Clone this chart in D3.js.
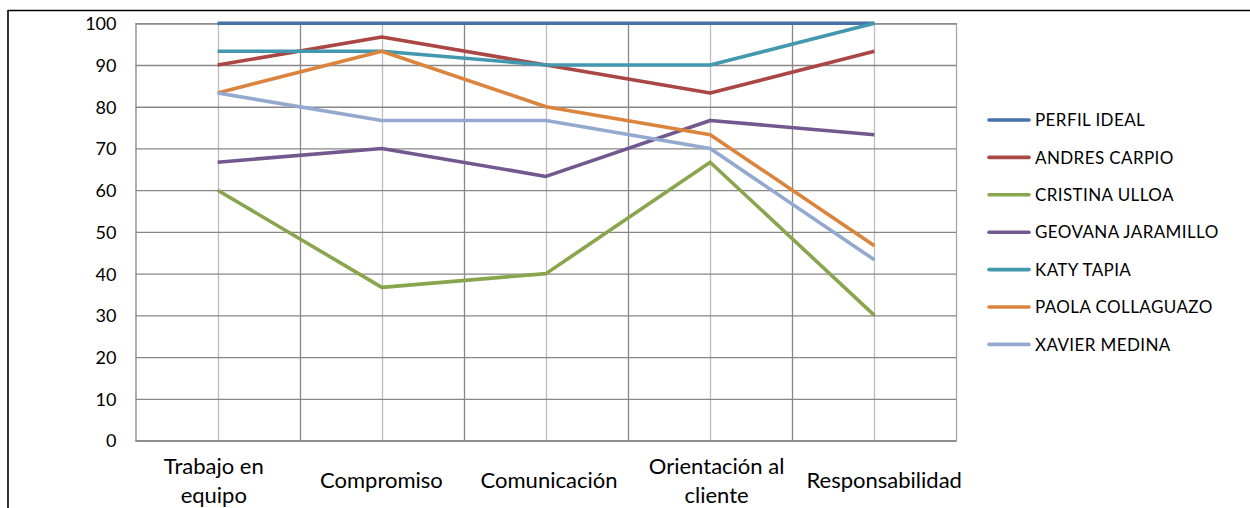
<!DOCTYPE html>
<html><head><meta charset="utf-8">
<script src="https://cdn.jsdelivr.net/npm/d3@7"></script>
<style>
html,body{margin:0;padding:0;background:#fff;}
svg{display:block;}
text{font-family:Lato, "Open Sans", sans-serif;fill:#000;}
</style></head>
<body>
<svg id="c" width="1250" height="508"></svg>
<script>
const categories = ["Trabajo en equipo","Compromiso","Comunicación","Orientación al cliente","Responsabilidad"];
const categoryLines = [["Trabajo en","equipo"],["Compromiso"],["Comunicación"],["Orientación al","cliente"],["Responsabilidad"]];
const seriesNames = ["PERFIL IDEAL","ANDRES CARPIO","CRISTINA ULLOA","GEOVANA JARAMILLO","KATY TAPIA","PAOLA COLLAGUAZO","XAVIER MEDINA"];
const perfilIdeal = [100,100,100,100,100];
const andresCarpio = [90,96.7,90,83.3,93.3];
const cristinaUlloa = [60,36.7,40,66.7,30];
const geovanaJaramillo = [66.7,70,63.3,76.7,73.3];
const katyTapia = [93.3,93.3,90,90,100];
const paolaCollaguazo = [83.3,93.3,80,73.3,46.7];
const xavierMedina = [83.3,76.7,76.7,70,43.3];
const yTicks = [0,10,20,30,40,50,60,70,80,90,100];
const colors = ["#4572A7","#AA4643","#89A54E","#71588F","#4198AF","#DB843D","#93A9CF"];

const seriesValues = [perfilIdeal,andresCarpio,cristinaUlloa,geovanaJaramillo,katyTapia,paolaCollaguazo,xavierMedina];
const series = seriesNames.map((n,i)=>({name:n,values:seriesValues[i],color:colors[i]}));

const svg = d3.select("#c");
const L=135.5, R=956.5, T=23.3, B=440.5;
const x = d3.scaleBand().domain(categories).range([L,R]).padding(0);
const xLabel = d3.scaleBand().domain(categories).range([130,968]).padding(0);
const y = d3.scaleLinear().domain([0,100]).range([B,T]);
const cx = c => x(c)+x.bandwidth()/2;

// chart frame
svg.append("line").attr("x1",8).attr("x2",1250).attr("y1",10.5).attr("y2",10.5).attr("stroke","#000").attr("stroke-width",1.6);
svg.append("line").attr("x1",8).attr("x2",8).attr("y1",10).attr("y2",508).attr("stroke","#000").attr("stroke-width",1.6);

// vertical gridlines at category centers (light)
svg.append("g").selectAll("line").data(categories).join("line")
  .attr("x1",d=>Math.round(cx(d))+0.5).attr("x2",d=>Math.round(cx(d))+0.5)
  .attr("y1",T).attr("y2",B).attr("stroke","#BEBEBE").attr("stroke-width",1.3);
// vertical gridlines at boundaries (dark)
svg.append("g").selectAll("line").data(categories.slice(1)).join("line")
  .attr("x1",d=>Math.round(x(d))+0.5).attr("x2",d=>Math.round(x(d))+0.5)
  .attr("y1",T).attr("y2",B).attr("stroke","#878787").attr("stroke-width",1.3);
// right edge
svg.append("line").attr("x1",R).attr("x2",R).attr("y1",T).attr("y2",B).attr("stroke","#A6A6A6").attr("stroke-width",1.3);

// horizontal gridlines + y axis
const yAxis = d3.axisLeft(y).tickValues(yTicks).tickSize(-(R-L)).tickPadding(19).tickFormat(d3.format("d"));
const gy = svg.append("g").attr("transform",`translate(${L},0)`).call(yAxis);
gy.select(".domain").attr("stroke","#878787").attr("stroke-width",1.3);
gy.selectAll(".tick line").attr("stroke","#878787").attr("stroke-width",1.3);
gy.selectAll(".tick text").attr("font-size",18).attr("font-family","Lato, sans-serif").attr("fill","#000").attr("dy","0.36em");

// x labels
const gx = svg.append("g");
categories.forEach((c,i)=>{
  const lines = categoryLines[i];
  const t = gx.append("text").attr("text-anchor","middle").attr("font-size",22);
  const base = lines.length===1 ? 488 : 474;
  const lx = xLabel(c)+xLabel.bandwidth()/2;
  lines.forEach((ln,j)=>{
    t.append("tspan").attr("x",lx).attr("y",base + j*29).text(ln);
  });
});

// lines
const line = d3.line().x((d,i)=>cx(categories[i])).y(d=>y(d));
svg.append("g").selectAll("path").data(series).join("path")
  .attr("d",d=>line(d.values)).attr("fill","none").attr("stroke",d=>d.color)
  .attr("stroke-width",3.6).attr("stroke-linejoin","round").attr("stroke-linecap","butt");

// legend
const lg = svg.append("g");
series.forEach((s,i)=>{
  const yy = 120 + i*37.4;
  lg.append("line").attr("x1",989).attr("x2",1029).attr("y1",yy).attr("y2",yy)
    .attr("stroke",s.color).attr("stroke-width",3.6).attr("stroke-linecap","round");
  lg.append("text").attr("x",1035).attr("y",yy).attr("dy","0.36em").attr("font-size",17).attr("letter-spacing",0.4).text(s.name);
});
</script>
</body></html>
